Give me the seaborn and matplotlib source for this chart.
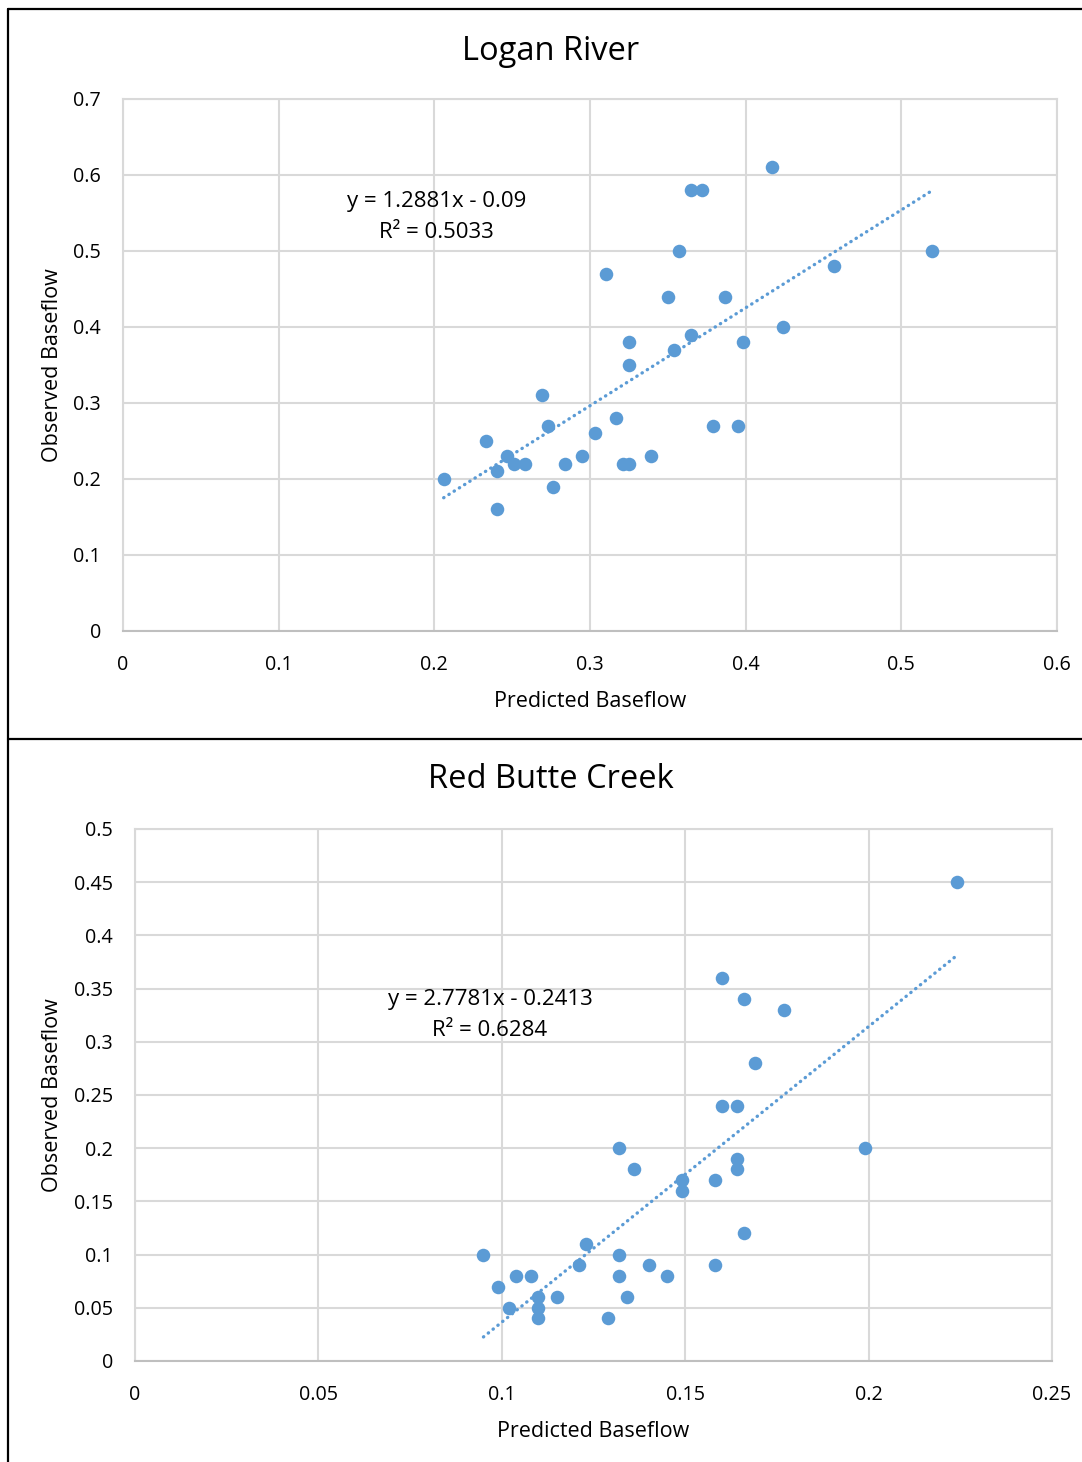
import matplotlib
matplotlib.use("Agg")
import matplotlib.pyplot as plt
from matplotlib.lines import Line2D
import numpy as np
import pandas as pd
import seaborn as sns

# Logan River: predicted vs observed baseflow
logan_pred = [0.417, 0.365, 0.372, 0.357, 0.520, 0.457, 0.310, 0.350, 0.387, 0.424,
              0.365, 0.325, 0.398, 0.354, 0.325, 0.269, 0.317, 0.273, 0.379, 0.395,
              0.303, 0.233, 0.247, 0.295, 0.339, 0.251, 0.258, 0.284, 0.321, 0.325,
              0.240, 0.206, 0.276, 0.240]
logan_obs = [0.61, 0.58, 0.58, 0.50, 0.50, 0.48, 0.47, 0.44, 0.44, 0.40,
             0.39, 0.38, 0.38, 0.37, 0.35, 0.31, 0.28, 0.27, 0.27, 0.27,
             0.26, 0.25, 0.23, 0.23, 0.23, 0.22, 0.22, 0.22, 0.22, 0.22,
             0.21, 0.20, 0.19, 0.16]
logan_slope, logan_icpt, logan_r2 = 1.2881, -0.09, 0.5033

# Red Butte Creek: predicted vs observed baseflow
redbutte_pred = [0.224, 0.160, 0.166, 0.177, 0.169, 0.160, 0.164, 0.132, 0.199, 0.164,
                 0.136, 0.164, 0.149, 0.158, 0.149, 0.166, 0.123, 0.095, 0.132, 0.121,
                 0.140, 0.158, 0.104, 0.108, 0.132, 0.145, 0.099, 0.110, 0.115, 0.134,
                 0.102, 0.110, 0.110, 0.129]
redbutte_obs = [0.45, 0.36, 0.34, 0.33, 0.28, 0.24, 0.24, 0.20, 0.20, 0.19,
                0.18, 0.18, 0.17, 0.17, 0.16, 0.12, 0.11, 0.10, 0.10, 0.09,
                0.09, 0.09, 0.08, 0.08, 0.08, 0.08, 0.07, 0.06, 0.06, 0.06,
                0.05, 0.05, 0.04, 0.04]
redbutte_slope, redbutte_icpt, redbutte_r2 = 2.7781, -0.2413, 0.6284

logan_xticks = [0, 0.1, 0.2, 0.3, 0.4, 0.5, 0.6]
logan_yticks = [0, 0.1, 0.2, 0.3, 0.4, 0.5, 0.6, 0.7]
redbutte_xticks = [0, 0.05, 0.1, 0.15, 0.2, 0.25]
redbutte_yticks = [0, 0.05, 0.1, 0.15, 0.2, 0.25, 0.3, 0.35, 0.4, 0.45, 0.5]

BLUE = "#5B9BD5"
GRID = "#D9D9D9"
TEXT = "#000000"

sns.set_theme(style="whitegrid")
plt.rcParams["font.family"] = ["Open Sans", "DejaVu Sans"]

W, H = 1082, 1462
fig = plt.figure(figsize=(W / 100, H / 100), dpi=100)

panels = [
    dict(title="Logan River", pred=logan_pred, obs=logan_obs,
         slope=logan_slope, icpt=logan_icpt, r2=logan_r2,
         xticks=logan_xticks, yticks=logan_yticks,
         box=(123, 99, 1057, 631), title_y=51, eq_xy=(0.2015, 0.545),
         eq_fmt="{:.2f}"),
    dict(title="Red Butte Creek", pred=redbutte_pred, obs=redbutte_obs,
         slope=redbutte_slope, icpt=redbutte_icpt, r2=redbutte_r2,
         xticks=redbutte_xticks, yticks=redbutte_yticks,
         box=(135, 829, 1052, 1361), title_y=780, eq_xy=(0.0968, 0.325),
         eq_fmt="{:.4f}"),
]

for p in panels:
    x0, y0, x1, y1 = p["box"]
    ax = fig.add_axes([x0 / W, 1 - y1 / H, (x1 - x0) / W, (y1 - y0) / H])
    df = pd.DataFrame({"Predicted": p["pred"], "Observed": p["obs"]})
    sns.scatterplot(data=df, x="Predicted", y="Observed", ax=ax, color=BLUE,
                    s=95, linewidth=0, zorder=3)

    # linear trendline over the range of the predicted values
    xs = np.array([min(p["pred"]), max(p["pred"])])
    ax.plot(xs, p["slope"] * xs + p["icpt"], color=BLUE, lw=2.4,
            linestyle=(0, (0.1, 1.75)), dash_capstyle="round", zorder=2)

    ax.set_xlim(p["xticks"][0], p["xticks"][-1])
    ax.set_ylim(p["yticks"][0], p["yticks"][-1])
    ax.set_xticks(p["xticks"])
    ax.set_yticks(p["yticks"])
    ax.set_xticklabels([("%g" % v) for v in p["xticks"]])
    ax.set_yticklabels([("%g" % v) for v in p["yticks"]])
    ax.tick_params(axis="both", length=0, labelsize=14.2, colors=TEXT)
    ax.tick_params(axis="x", pad=17)
    ax.tick_params(axis="y", pad=16)
    ax.grid(True, color=GRID, linewidth=1.5)
    ax.set_facecolor("white")
    for s in ax.spines.values():
        s.set_visible(True)
        s.set_color(GRID)
        s.set_linewidth(1.5)
    ax.spines["bottom"].set_color("#BFBFBF")

    ax.set_xlabel("Predicted Baseflow", fontsize=15.5, color=TEXT, labelpad=12)
    ax.set_ylabel("Observed Baseflow", fontsize=15.5, color=TEXT)
    ax.yaxis.set_label_coords(-(x0 - 63) / (x1 - x0), 0.5)

    eq = "y = {:.4f}x - {}\nR² = {:.4f}".format(p["slope"], p["eq_fmt"].format(-p["icpt"]), p["r2"])
    ax.text(p["eq_xy"][0], p["eq_xy"][1], eq, fontsize=16, color=TEXT,
            ha="center", va="center", linespacing=1.6, zorder=4)

    fig.text(551 / W, 1 - p["title_y"] / H, p["title"], fontsize=23.5, color=TEXT,
             ha="center", va="center")

# frame lines around and between the two charts
def hline(y, xa, xb):
    fig.add_artist(Line2D([xa / W, xb / W], [1 - y / H, 1 - y / H],
                          color="black", lw=1.6, transform=fig.transFigure))

def vline(x, ya, yb):
    fig.add_artist(Line2D([x / W, x / W], [1 - ya / H, 1 - yb / H],
                          color="black", lw=1.6, transform=fig.transFigure))

hline(9, 8, W)
hline(739, 8, W)
vline(8, 9, H)

fig.savefig("out.png", dpi=100, facecolor="white")
